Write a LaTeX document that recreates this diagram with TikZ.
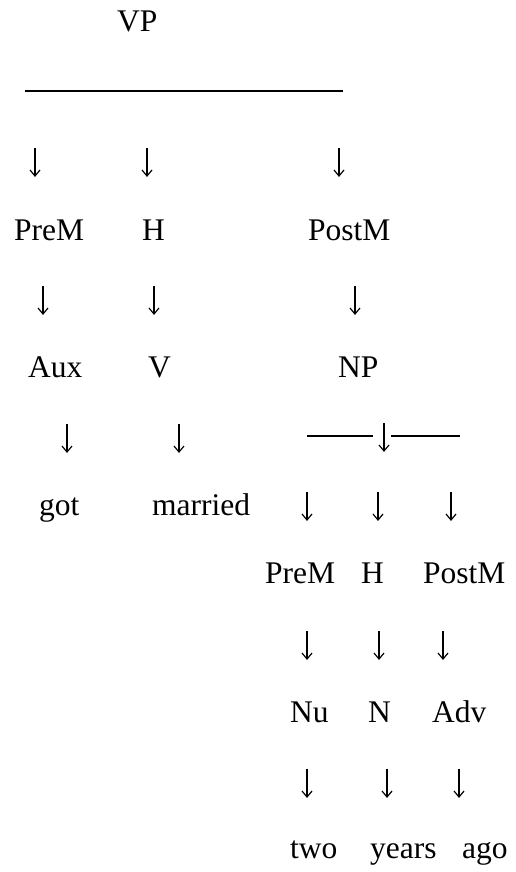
\documentclass[tikz,border=0pt]{standalone}
\usepackage{fontspec}
\setmainfont{Liberation Serif}
\tikzset{dnarr/.pic={
    \draw[line width=1.2pt] (0,-14) -- (0,14);
    \draw[line width=1.2pt,line join=miter] (-5,8) -- (0,14) -- (5,8);
}}
\begin{document}
\begin{tikzpicture}[x=1pt,y=-1pt,
    every node/.style={inner sep=0pt,font=\fontsize{31.5}{36}\selectfont},
    lbl/.style={anchor=base west},
    bar/.style={line width=2.2pt}]
                \useasboundingbox (0,0) rectangle (516,872);
                % VP level
                \node[lbl] (vp) at (117,32) {VP};
                \coordinate (vpl) at (25,91);
                \coordinate (vpr) at (343,91);
                \draw[bar] (vpl) -- (vpr);
                \pic (a1) at (35,162) {dnarr};
                \pic (a2) at (147,162) {dnarr};
                \pic (a3) at (339,162) {dnarr};
                \node[lbl] (prem) at (14,240) {PreM};
                \node[lbl] (h) at (142,240) {H};
                \node[lbl] (postm) at (308,240) {PostM};
                \pic (b1) at (43,300) {dnarr};
                \pic (b2) at (154,300) {dnarr};
                \pic (b3) at (355,300) {dnarr};
                \node[lbl] (aux) at (28,377) {Aux};
                \node[lbl] (v) at (148,377) {V};
                \node[lbl] (np) at (338,377) {NP};
                \pic (c1) at (67,438) {dnarr};
                \pic (c2) at (179,438) {dnarr};
                % NP level
                \pic (c3) at (384,437) {dnarr};
                \coordinate (npl) at (307,436);
                \coordinate (npml) at (373,436);
                \coordinate (npmr) at (391,436);
                \coordinate (npr) at (460,436);
                \draw[bar] (npl) -- (npml);
                \draw[bar] (npmr) -- (npr);
                \node[lbl] (got) at (39,515) {got};
                \node[lbl] (married) at (152,515) {married};
                \pic (d1) at (307,506) {dnarr};
                \pic (d2) at (378,506) {dnarr};
                \pic (d3) at (451,506) {dnarr};
                \node[lbl] (prem2) at (265,583) {PreM};
                \node[lbl] (h2) at (361,583) {H};
                \node[lbl] (postm2) at (423,583) {PostM};
                \pic (e1) at (307,645) {dnarr};
                \pic (e2) at (379,645) {dnarr};
                \pic (e3) at (443,645) {dnarr};
                \node[lbl] (nu) at (290,722) {Nu};
                \node[lbl] (n) at (368,722) {N};
                \node[lbl] (adv) at (432,722) {Adv};
                \pic (f1) at (307,783) {dnarr};
                \pic (f2) at (387,783) {dnarr};
                \pic (f3) at (459,783) {dnarr};
                \node[lbl] (two) at (290,858) {two};
                \node[lbl] (years) at (370,858) {years};
                \node[lbl] (ago) at (462,858) {ago};
            \end{tikzpicture}
\end{document}
